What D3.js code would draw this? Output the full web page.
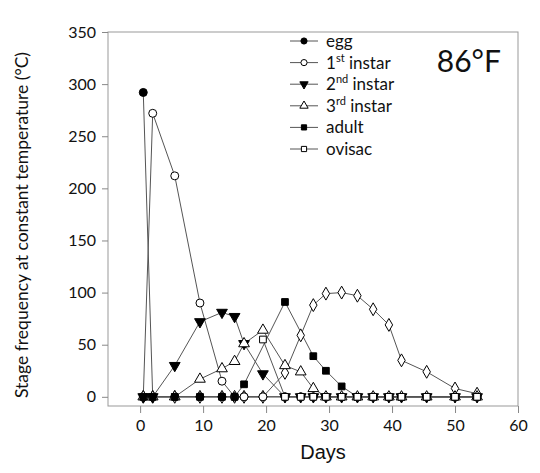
<!DOCTYPE html>
<html>
<head>
<meta charset="UTF-8">
<title>Stage frequency 86°F</title>
<script src="https://cdn.jsdelivr.net/npm/d3@7"></script>
<style>
    body { margin: 0; background: #fff; }
    .tick text { font-family: Lato, "Open Sans", sans-serif; font-size: 16px; fill: #111; }
    .tick line, .domain { stroke: #888; }
</style>
</head>
<body>
<svg id="chart" width="540" height="473"></svg>
<script>
    // sampling days shared by every stage
    const days = [0.5, 2, 5.5, 9.5, 13, 15, 16.5, 19.5, 23, 25.5, 27.5, 29.5, 32, 34.5, 37, 39.5, 41.5, 45.5, 50, 53.5];

    // null = stage not plotted on that day
    const egg    = [292, 0, 0, 0, 0, 0, 0, 0, 0, 0, 0, 0, 0, 0, 0, 0, 0, 0, 0, 0];
    const first  = [0, 272, 212, 90, 15, 0, 0, 0, 0, 0, 0, 0, 0, 0, 0, 0, 0, 0, 0, 0];
    const second = [0, 0, 30, 72, 81, 77, 51, 22, 0, 0, 0, 0, 0, 0, 0, 0, 0, 0, 0, 0];
    const third  = [0, 0, 0, 17, 27, 34, 51, 64, 30, 24, 8, 0, 0, 0, 0, 0, 0, 0, 0, 0];
    const adult  = [0, 0, 0, 0, 0, 0, 12, null, 91, null, 39, 25, 10, 0, 0, 0, 0, 0, 0, 0];
    const ovisac = [null, null, null, null, null, null, null, 55, 0, 0, 0, 0, 0, 0, 0, 0, 0, 0, 0, 0];
    const other  = [0, 0, 0, 0, 0, 0, 0, 0, 23, 59, 88, 99, 100, 97, 84, 69, 35, 24, 8, 3];

    const xTicks = [0, 10, 20, 30, 40, 50, 60];
    const yTicks = [0, 50, 100, 150, 200, 250, 300, 350];

    const series = [
        {name: "other",  values: other,  shape: d3.symbolDiamond, fill: "#fff", size: 48, legend: false},
        {name: "egg",    values: egg,    shape: d3.symbolCircle,  fill: "#000", size: 50, legend: true},
        {name: "1st",    values: first,  shape: d3.symbolCircle,  fill: "#fff", size: 50, legend: true},
        {name: "2nd",    values: second, shape: "down",          fill: "#000", size: 50, legend: true},
        {name: "3rd",    values: third,  shape: d3.symbolTriangle, fill: "#fff", size: 50, legend: true},
        {name: "adult",  values: adult,  shape: d3.symbolSquare,  fill: "#000", size: 45, legend: true},
        {name: "ovisac", values: ovisac, shape: d3.symbolSquare,  fill: "#fff", size: 45, legend: true}
    ];

    const margin = {top: 32, right: 22, bottom: 67, left: 108},
        width = 540 - margin.left - margin.right,
        height = 473 - margin.top - margin.bottom;

    const svg = d3.select("#chart");
    const g = svg.append("g")
        .attr("transform", "translate(" + margin.left + "," + margin.top + ")");

    const x = d3.scaleLinear().domain([-5.1, 60]).range([0, width]);
    const y = d3.scaleLinear().domain([-8.8, 350]).range([height, 0]);

    // frame
    g.append("rect")
        .attr("width", width).attr("height", height)
        .attr("fill", "none").attr("stroke", "#999");

    g.append("g")
        .attr("transform", "translate(0," + height + ")")
        .call(d3.axisBottom(x).tickValues(xTicks).tickSize(7).tickPadding(7))
        .call(a => a.select(".domain").remove());

    g.append("g")
        .call(d3.axisLeft(y).tickValues(yTicks).tickSize(6).tickPadding(6))
        .call(a => a.select(".domain").remove());

    const line = d3.line()
        .x(d => x(d.day))
        .y(d => y(d.v));

    function symbolPath(s, scale) {
        const type = s.shape === "down" ? d3.symbolTriangle : s.shape;
        return d3.symbol(type, s.size * (scale || 1))();
    }

    series.forEach(function(s) {
        const pts = days.map((d, i) => ({day: d, v: s.values[i]})).filter(p => p.v !== null);
        g.append("path")
            .datum(pts)
            .attr("d", line)
            .attr("fill", "none")
            .attr("stroke", "#555")
            .attr("stroke-width", 1);
    });

    series.forEach(function(s) {
        const pts = days.map((d, i) => ({day: d, v: s.values[i]})).filter(p => p.v !== null);
        g.selectAll(null)
            .data(pts)
            .join("path")
            .attr("d", symbolPath(s))
            .attr("transform", d => "translate(" + x(d.day) + "," + y(d.v) + ")" + (s.shape === "down" ? " rotate(180)" : ""))
            .attr("fill", s.fill)
            .attr("stroke", "#000")
            .attr("stroke-width", 1);
    });

    // legend
    const legendLabels = [
        ["egg", ""], ["1", "st", " instar"], ["2", "nd", " instar"],
        ["3", "rd", " instar"], ["adult", ""], ["ovisac", ""]
    ];
    const leg = svg.append("g").attr("transform", "translate(290,41)");
    series.filter(s => s.legend).forEach(function(s, i) {
        const row = leg.append("g").attr("transform", "translate(0," + (i * 21.6) + ")");
        row.append("line").attr("x1", 0).attr("x2", 28).attr("stroke", "#555");
        row.append("path")
            .attr("d", symbolPath(s, 0.6))
            .attr("transform", "translate(14,0)" + (s.shape === "down" ? " rotate(180)" : ""))
            .attr("fill", s.fill).attr("stroke", "#000");
        const lab = legendLabels[i];
        const t = row.append("text")
            .attr("x", 36).attr("y", 6)
            .attr("font-family", "Lato, 'Open Sans', sans-serif")
            .attr("font-size", 17)
            .attr("fill", "#111");
        t.append("tspan").text(lab[0]);
        if (lab[1]) {
            t.append("tspan").text(lab[1]).attr("font-size", 11).attr("dy", -7);
            t.append("tspan").text(lab[2]).attr("dy", 7);
        }
    });

    svg.append("text")
        .attr("x", 501).attr("y", 72)
        .attr("text-anchor", "end")
        .attr("font-family", "Lato, 'Open Sans', sans-serif")
        .attr("font-size", 30)
        .attr("fill", "#111")
        .text("86°F");

    svg.append("text")
        .attr("x", 323).attr("y", 459)
        .attr("text-anchor", "middle")
        .attr("font-family", "'Liberation Sans', Arial, sans-serif")
        .attr("font-size", 20)
        .attr("fill", "#111")
        .text("Days");

    svg.append("text")
        .attr("transform", "translate(28,225) rotate(-90)")
        .attr("text-anchor", "middle")
        .attr("font-family", "Lato, 'Open Sans', sans-serif")
        .attr("font-size", 17.5)
        .attr("fill", "#111")
        .text("Stage frequency at constant temperature (°C)");
</script>
</body>
</html>
